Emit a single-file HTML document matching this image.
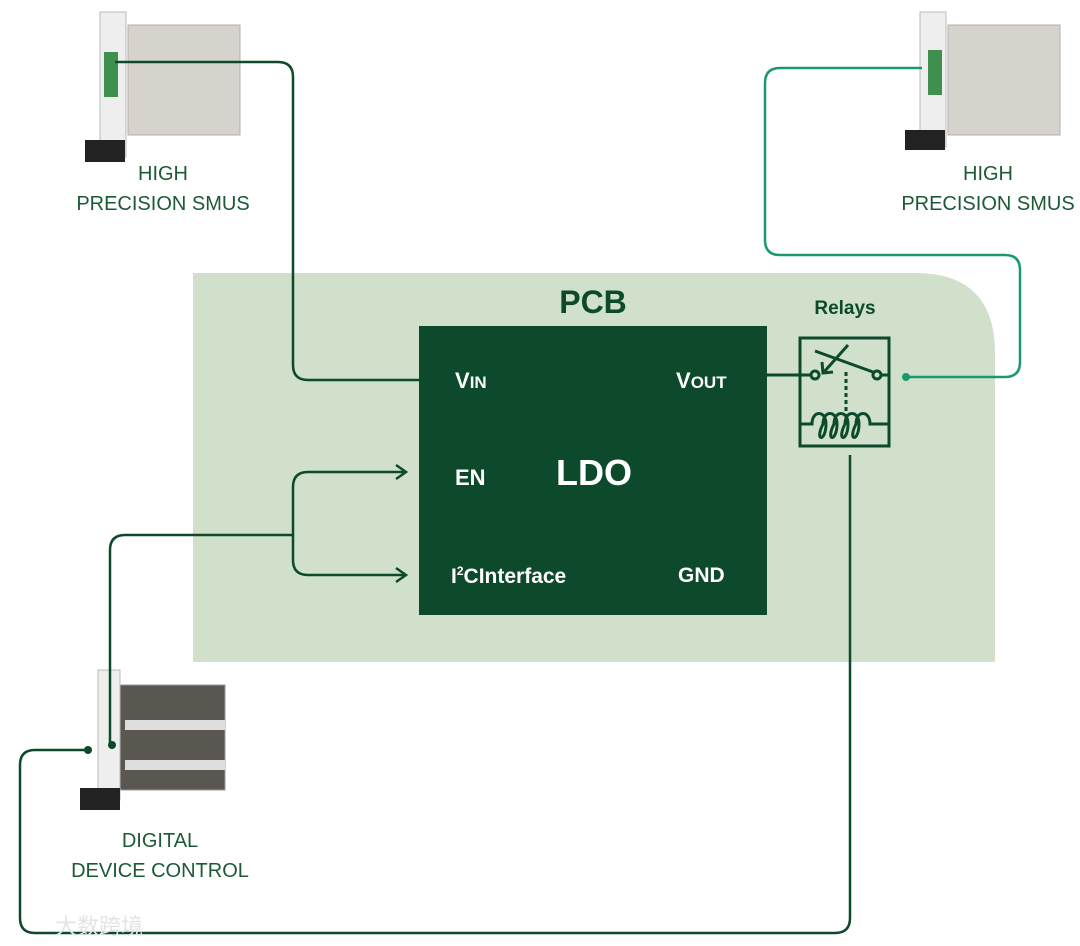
<!DOCTYPE html>
<html><head><meta charset="utf-8"><style>
html,body{margin:0;padding:0;background:#fff;}
svg{display:block;}
text{font-family:"Liberation Sans","Noto Sans CJK SC",sans-serif;}
</style></head><body>
<svg width="1080" height="946" viewBox="0 0 1080 946" xmlns="http://www.w3.org/2000/svg">
<!-- PCB -->
<path d="M193 273 H915 Q995 273 995 353 V662 H193 Z" fill="#d0e0cb"/>
<text x="593" y="313" font-size="32" font-weight="bold" fill="#0d4a2c" text-anchor="middle">PCB</text>
<!-- LDO -->
<rect x="419" y="326" width="348" height="289" fill="#0d4a2c"/>
<g fill="#fff" font-weight="bold">
<text x="455" y="388" font-size="22">V<tspan font-size="17">IN</tspan></text>
<text x="676" y="388" font-size="22">V<tspan font-size="17">OUT</tspan></text>
<text x="455" y="485" font-size="22">EN</text>
<text x="594" y="485" font-size="36" text-anchor="middle">LDO</text>
<text x="451" y="583" font-size="21">I<tspan font-size="12" dy="-8">2</tspan><tspan dy="8">CInterface</tspan></text>
<text x="678" y="582" font-size="21">GND</text>
</g>
<!-- Relays -->
<text x="845" y="314" font-size="19" font-weight="bold" fill="#0d4a2c" text-anchor="middle">Relays</text>
<g stroke="#0d4a2c" stroke-width="3" fill="none">
<rect x="800" y="338" width="89" height="108"/>
<line x1="767" y1="375" x2="810" y2="375"/>
<circle cx="815" cy="375" r="4"/>
<circle cx="877" cy="375" r="4"/>
<line x1="881" y1="375" x2="889" y2="375"/>
<line x1="815" y1="351" x2="873" y2="372"/>
<line x1="848" y1="345" x2="824" y2="372"/>
<path d="M822 362 L823 373 L833 372"/>
<line x1="846" y1="372" x2="846" y2="418" stroke-dasharray="4 3"/>
<path d="M800 424 H812 C812 410 826 410 826 424 C826 442 814 442 823 424 C823 410 837 410 837 424 C837 442 825 442 834 424 C834 410 848 410 848 424 C848 442 836 442 845 424 C845 410 859 410 859 424 C859 442 847 442 856 424 C856 410 870 410 870 424 H889"/>
</g>
<!-- devices -->
<g>
<rect x="128" y="25" width="112" height="110" fill="#d6d3cc" stroke="#b5b2aa"/>
<rect x="100" y="12" width="26" height="145" fill="#eeeeee" stroke="#bbb"/>
<rect x="104" y="52" width="14" height="45" fill="#3f8f4f"/>
<rect x="85" y="140" width="40" height="22" fill="#222"/>
<rect x="948" y="25" width="112" height="110" fill="#d6d3cc" stroke="#b5b2aa"/>
<rect x="920" y="12" width="26" height="135" fill="#eeeeee" stroke="#bbb"/>
<rect x="928" y="50" width="14" height="45" fill="#3f8f4f"/>
<rect x="905" y="130" width="40" height="20" fill="#222"/>
<rect x="120" y="685" width="105" height="105" fill="#5a5650" stroke="#999"/>
<rect x="125" y="720" width="100" height="10" fill="#ddd"/>
<rect x="125" y="760" width="100" height="10" fill="#ddd"/>
<rect x="98" y="670" width="22" height="130" fill="#eeeeee" stroke="#bbb"/>
<rect x="80" y="788" width="40" height="22" fill="#222"/>
</g>
<!-- wires -->
<g stroke="#0d4a2c" stroke-width="2.5" fill="none">
<path d="M115 62 H278 Q293 62 293 77 V365 Q293 380 308 380 H419"/>
<path d="M110 745 V550 Q110 535 125 535 H293"/>
<path d="M406 472 H308 Q293 472 293 487 V560 Q293 575 308 575 H406"/>
<path d="M396 465 L406 472 L396 479 M396 568 L406 575 L396 582"/>
<path d="M88 750 H35 Q20 750 20 765 V918 Q20 933 35 933 H835 Q850 933 850 918 V455"/>
</g>
<circle cx="112" cy="745" r="4" fill="#0d4a2c"/>
<circle cx="88" cy="750" r="4" fill="#0d4a2c"/>
<path d="M905 377 H1005 Q1020 377 1020 362 V270 Q1020 255 1005 255 H780 Q765 255 765 240 V83 Q765 68 780 68 H922" stroke="#1a9a6a" stroke-width="2.5" fill="none"/>
<circle cx="906" cy="377" r="4" fill="#1a9a6a"/>
<g fill="#1c5a36" font-size="20" text-anchor="middle">
<text x="163" y="180">HIGH</text>
<text x="163" y="210">PRECISION SMUS</text>
<text x="988" y="180">HIGH</text>
<text x="988" y="210">PRECISION SMUS</text>
<text x="160" y="847">DIGITAL</text>
<text x="160" y="877">DEVICE CONTROL</text>
</g>
<text x="55" y="934" font-size="22" fill="#e4e4e4">大数跨境</text>
</svg>
</body></html>
